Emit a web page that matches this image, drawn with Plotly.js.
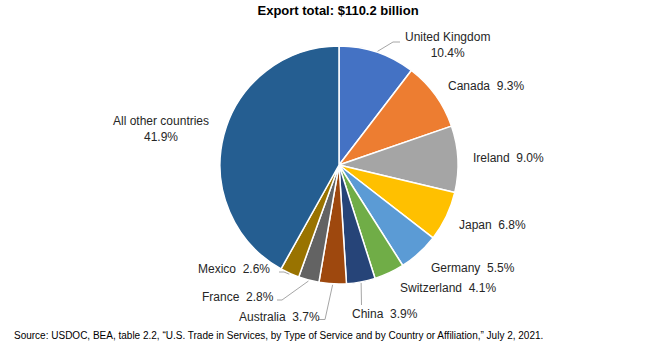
<!DOCTYPE html>
<html>
<head>
<meta charset="utf-8">
<script src="https://cdn.plot.ly/plotly-3.0.1.min.js"></script>
<style>html,body{margin:0;padding:0;background:#fff;}#chart{width:652px;height:347px;}</style>
</head>
<body>
<div id="chart"></div>
<script>
// ---- data ----
const countries = ["United Kingdom","Canada","Ireland","Japan","Germany","Switzerland","China","Australia","France","Mexico","All other countries"];
const shares = [10.4, 9.3, 9.0, 6.8, 5.5, 4.1, 3.9, 3.7, 2.8, 2.6, 41.9];
const colors = ["#4472C4","#ED7D31","#A5A5A5","#FFC000","#5B9BD5","#70AD47","#264478","#9E480E","#636363","#997300","#255E91"];
const titleText = "Export total: $110.2 billion";
const sourceText = "Source: USDOC, BEA, table 2.2, \u201cU.S. Trade in Services, by Type of Service and by Country or Affiliation,\u201d July 2, 2021.";

// ---- layout helpers ----
const W = 652, H = 347;
const cx = 339, cy = 165, R = 119;
const px = x => x / W;
const py = y => 1 - y / H;

// label placement (pixel centres) and label format
const labelPos = [
  {x:447, y:45, multi:true},
  {x:486, y:86},
  {x:508, y:158},
  {x:492, y:225},
  {x:473, y:268},
  {x:448, y:288},
  {x:385, y:314},
  {x:279, y:317},
  {x:238, y:297},
  {x:234, y:269},
  {x:161, y:129, multi:true}
];
// leader line elbows (pixel) for slices that have them, indexed by slice
const leaders = {
  0: [[393,42],[400,42]],
  6: [[361.5,305]],
  7: [[325,319.5],[318,319.5]],
  8: [[282,300],[277,300]],
  9: [[284,272],[279,272]]
};

const total = shares.reduce((a,b)=>a+b,0);
let cum = 0;
const annotations = [];
const shapes = [];
shares.forEach((v,i)=>{
  const mid = (cum + v/2) / total;
  cum += v;
  const th = 2*Math.PI*mid;
  const ex = cx + (R+1)*Math.sin(th), ey = cy - (R+1)*Math.cos(th);
  const lp = labelPos[i];
  const pct = v.toFixed(1) + "%";
  const txt = lp.multi ? countries[i] + "<br>" + pct : countries[i] + "  " + pct;
  annotations.push({
    xref:"paper", yref:"paper", x:px(lp.x), y:py(lp.y),
    xanchor:"center", yanchor:"middle", showarrow:false,
    text:txt, align:"center",
    font:{family:"Liberation Sans, Arial, sans-serif", size:12, color:"#262626"}
  });
  if (leaders[i]) {
    let path = "M " + px(ex) + "," + py(ey);
    leaders[i].forEach(p=>{ path += " L " + px(p[0]) + "," + py(p[1]); });
    shapes.push({type:"path", xref:"paper", yref:"paper", path:path,
      line:{color:"#A6A6A6", width:1}});
  }
});

annotations.push({
  xref:"paper", yref:"paper", x:px(12), y:py(335), xanchor:"left", yanchor:"middle",
  showarrow:false, text:sourceText,
  font:{family:"Liberation Sans, Arial, sans-serif", size:10, color:"#000"}
});

const trace = {
  type:"pie",
  labels:countries,
  values:shares,
  sort:false,
  direction:"clockwise",
  rotation:0,
  marker:{colors:colors, line:{color:"#FFFFFF", width:1.5}},
  textinfo:"none",
  hoverinfo:"label+percent",
  domain:{x:[px(cx-R), px(cx+R)], y:[py(cy+R), py(cy-R)]},
  showlegend:false
};

const layout = {
  width:W, height:H,
  margin:{l:0,r:0,t:0,b:0},
  paper_bgcolor:"#fff",
  title:{text:"<b>"+titleText+"</b>", x:0.5185, xanchor:"center", y:py(10), yanchor:"middle",
    font:{family:"Liberation Sans, Arial, sans-serif", size:13, color:"#000"}},
  annotations:annotations,
  shapes:shapes,
  showlegend:false
};

Plotly.newPlot("chart",[trace],layout,{displayModeBar:false, staticPlot:true});
</script>
</body>
</html>
